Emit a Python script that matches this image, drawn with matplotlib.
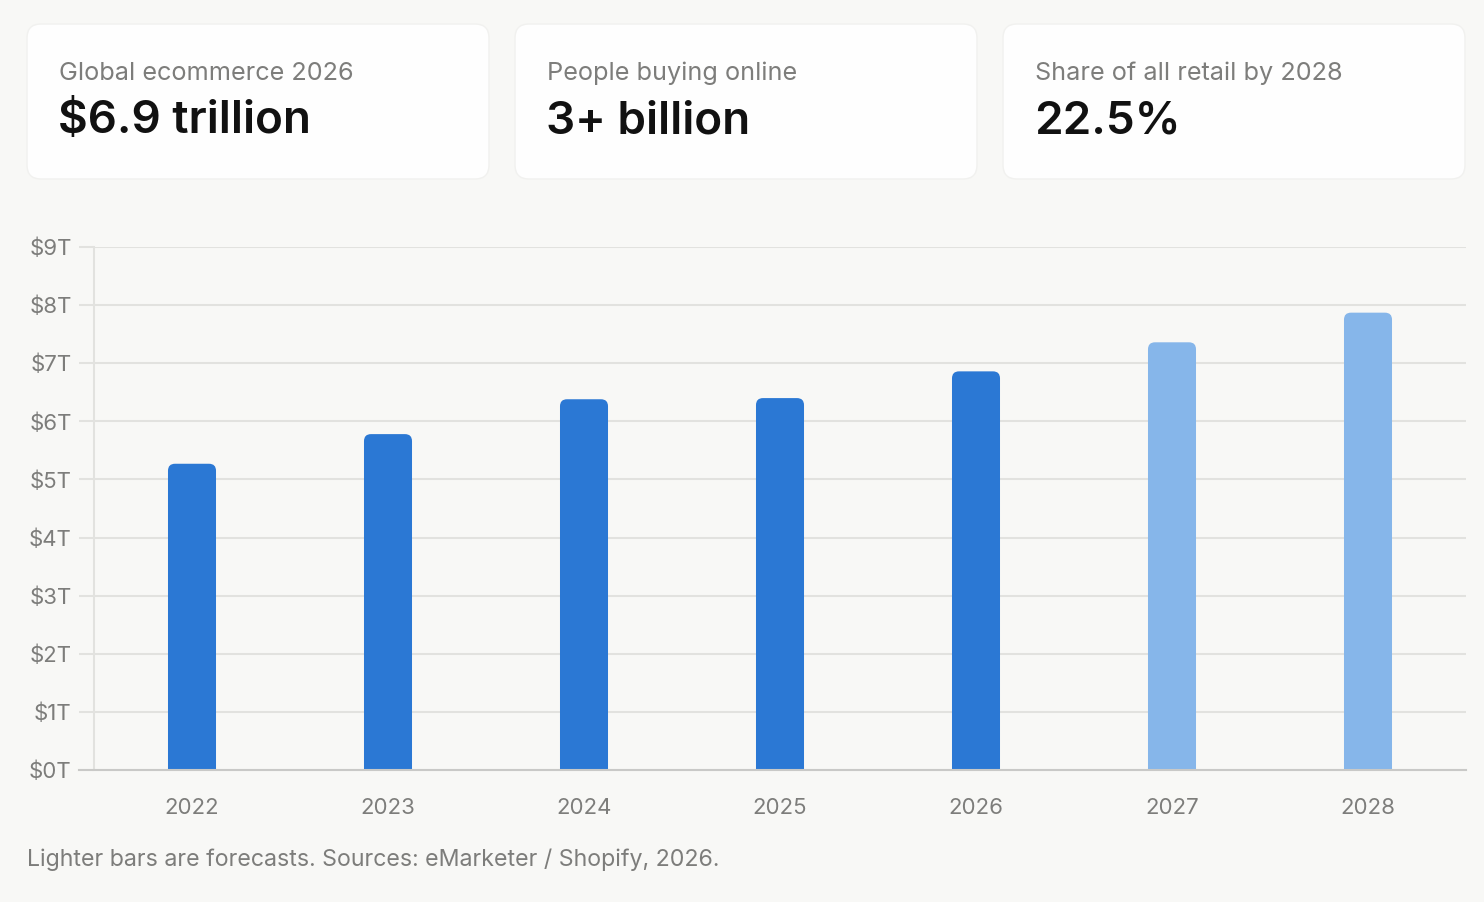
import matplotlib
matplotlib.use('Agg')
import matplotlib.pyplot as plt
from matplotlib.patches import FancyBboxPatch

# data
years = ['2022', '2023', '2024', '2025', '2026', '2027', '2028']
sales = [5.27, 5.78, 6.38, 6.40, 6.86, 7.36, 7.87]  # trillions USD
is_forecast = [False, False, False, False, False, True, True]
y_ticks = [0, 1, 2, 3, 4, 5, 6, 7, 8, 9]
y_tick_labels = [f'${v}T' for v in y_ticks]

card_labels = ['Global ecommerce 2026', 'People buying online', 'Share of all retail by 2028']
card_values = ['$6.9 trillion', '3+ billion', '22.5%']
footnote = 'Lighter bars are forecasts. Sources: eMarketer / Shopify, 2026.'

# style
BG = '#f8f8f6'
CARD = '#fefefe'
GRID = '#e2e2df'
TEXT_GRAY = '#7d7d7b'
DARK_BLUE = '#2b78d4'
LIGHT_BLUE = '#86b6ea'
plt.rcParams['font.family'] = ['Inter', 'DejaVu Sans']

W, H = 1484, 902
fig = plt.figure(figsize=(W / 100, H / 100), dpi=100, facecolor=BG)

# overlay in pixel coordinates for cards and footnote
overlay = fig.add_axes([0, 0, 1, 1], zorder=0)
overlay.set_xlim(0, W)
overlay.set_ylim(H, 0)
overlay.axis('off')

card_x = [27, 515, 1003]
for cx, lab, val in zip(card_x, card_labels, card_values):
    overlay.add_patch(FancyBboxPatch((cx, 24), 462, 155,
                                     boxstyle='round,pad=0,rounding_size=14',
                                     facecolor=CARD, edgecolor='#f1f1ef', linewidth=1))
    overlay.text(cx + 32, 73, lab, fontsize=18.2, color=TEXT_GRAY, va='center', ha='left')
    overlay.text(cx + 31, 121, val, fontsize=33, color='#111111', va='center', ha='left',
                 fontweight='semibold')

overlay.text(27, 860, footnote, fontsize=16.7, color=TEXT_GRAY, va='center', ha='left')

# main chart
ax = fig.add_axes([94 / W, (H - 770) / H, (1466 - 94) / W, (770 - 247) / H], zorder=1)
ax.set_facecolor('none')
x = list(range(len(years)))
ax.set_xlim(-0.5, len(years) - 0.5)
ax.set_ylim(0, 9)

colors = [LIGHT_BLUE if f else DARK_BLUE for f in is_forecast]
bars = ax.bar(x, sales, width=0.245, color=colors, zorder=3)

# swap plain bars for ones with rounded top corners
fig.canvas.draw()
px_x = ax.transData.transform((1, 0))[0] - ax.transData.transform((0, 0))[0]
px_y = ax.transData.transform((0, 1))[1] - ax.transData.transform((0, 0))[1]
aspect = px_x / px_y
r = 7 / px_x
for b, c in zip(bars, colors):
    b.set_visible(False)
    bx, bw, bh = b.get_x(), b.get_width(), b.get_height()
    ax.add_patch(FancyBboxPatch((bx, -r * aspect * 2), bw, bh + r * aspect * 2,
                                boxstyle=f'round,pad=0,rounding_size={r}',
                                mutation_aspect=aspect, facecolor=c,
                                edgecolor='none', zorder=3))

ax.set_yticks(y_ticks)
ax.set_yticklabels(y_tick_labels)
ax.set_xticks(x)
ax.set_xticklabels(years)
ax.grid(axis='y', color=GRID, linewidth=1.5, zorder=0)
ax.tick_params(axis='y', length=11, width=1.5, color=GRID, pad=5,
               labelsize=16, labelcolor=TEXT_GRAY)
ax.tick_params(axis='x', length=0, pad=20, labelsize=16, labelcolor=TEXT_GRAY)

for side in ['top', 'right']:
    ax.spines[side].set_visible(False)
ax.spines['left'].set_color(GRID)
ax.spines['left'].set_linewidth(1.5)
ax.spines['bottom'].set_color('#c9c9c7')
ax.spines['bottom'].set_linewidth(1.5)
ax.spines['bottom'].set_bounds(-0.5 - 15 / px_x, len(years) - 0.5)
ax.spines['bottom'].set_zorder(4)

fig.savefig('out.png', dpi=100, facecolor=BG)
